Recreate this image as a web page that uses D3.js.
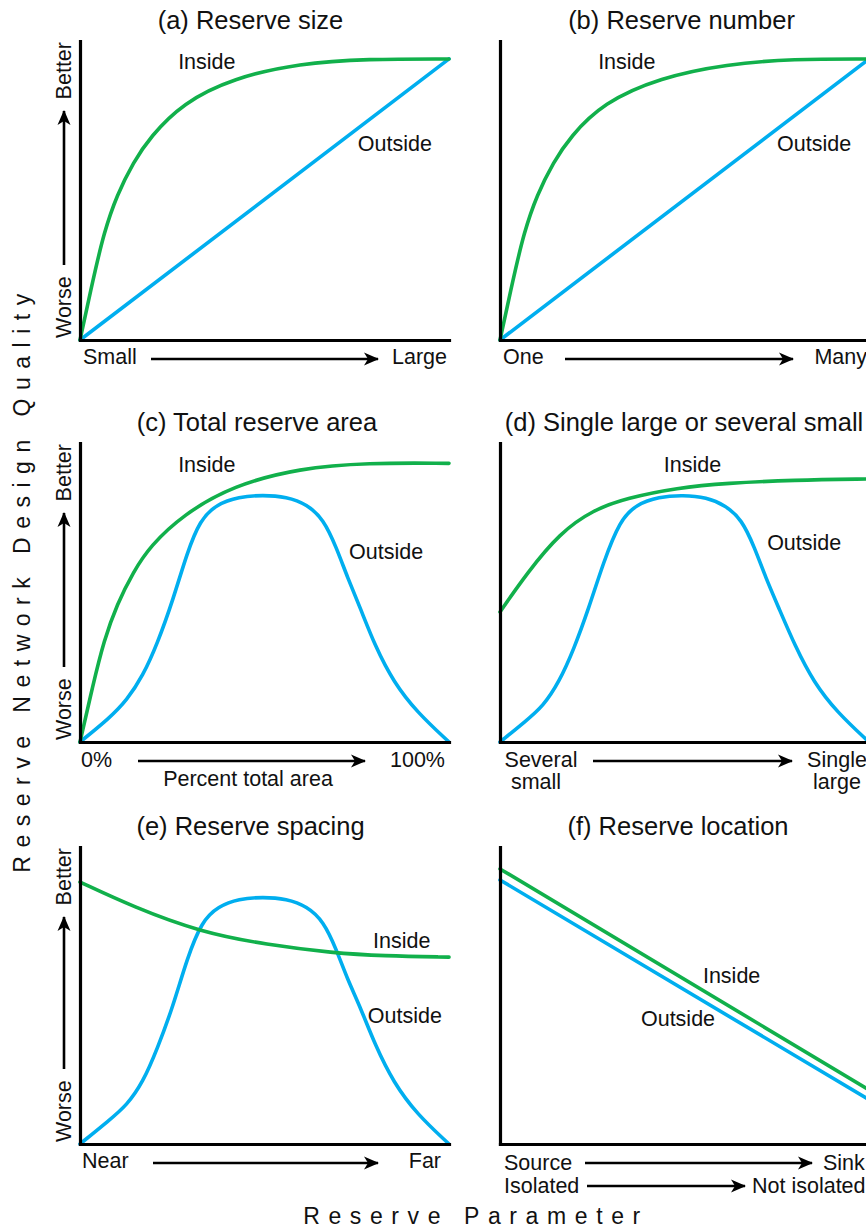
<!DOCTYPE html>
<html>
<head>
<meta charset="utf-8">
<script src="https://cdn.jsdelivr.net/npm/d3@7"></script>
<style>
  html, body { margin: 0; padding: 0; background: #fff; overflow: hidden; }
  svg { display: block; font-family: "Liberation Sans", Arial, Helvetica, sans-serif; }
</style>
</head>
<body>
<svg id="chart" width="866" height="1228"></svg>
<script>
// ---------------- DATA (x: 0..100 along parameter, y: 0..100 quality) ----------------
const titles = ["(a) Reserve size", "(b) Reserve number", "(c) Total reserve area",
                "(d) Single large or several small", "(e) Reserve spacing", "(f) Reserve location"];

// (a) Reserve size
const sizeInside  = [[0,0],[3.5,20],[6.5,36],[10,48.5],[14.5,59.5],[19,67.9],[27.9,79.3],[41.5,87.6],[59.6,92.6],[77.8,94],[100,94]];
const sizeOutside = [[0,0],[100,94]];
// (b) Reserve number
const numberInside  = [[0,0],[3.5,20],[6.5,36],[10,48.5],[14.5,59.5],[19,67.9],[27.9,79.3],[43.4,87.8],[61.5,92.3],[79.4,94],[100,94]];
const numberOutside = [[0,0],[100,94]];
// (c) Total reserve area
const areaInside  = [[0,0],[3.5,19],[6.5,34],[10,46],[14.5,57],[19,65.5],[27.9,76],[41.5,85.8],[59.6,91.6],[77.8,93.4],[100,93.2]];
const areaOutside = [[0,0],[8,8],[12.7,14],[17,22],[21,33],[25.2,47.5],[29,63.2],[32.5,74.2],[37,79.5],[43,82],[49.6,82.6],[56,82],[61.5,79.5],[66,74.5],[69.5,65],[72.5,55],[75.9,45],[80,32],[85,20],[91.3,10],[100,0]];
// (d) Single large or several small
const slossInside  = [[0,43.5],[7.3,56.5],[16.3,70],[25.2,77.6],[34.4,81.6],[48,85],[61.5,86.6],[79.4,87.6],[100,88]];
const slossOutside = [[0,0],[7,7],[11.7,12],[16,20],[20,31],[24,44.5],[28,60],[32.5,74.2],[37,79.5],[43,82],[49.6,82.6],[56,81.8],[61,79.2],[65.5,74.5],[69,65],[72,55],[75.5,45],[80,32],[85,20],[91.3,10],[100,0]];
// (e) Reserve spacing
const spacingInside  = [[0,87.6],[14.4,79.3],[32.5,70.9],[50.7,66.6],[68.6,63.9],[82.1,62.9],[100,62.5]];
const spacingOutside = [[0,0],[8,8],[12.7,13],[17,20.5],[21,32],[25.2,46],[29,62],[33,74.5],[37.5,79.5],[43,82],[49.6,82.6],[56,82],[61.5,79.5],[66,74.5],[69.5,65],[72.5,55],[75.9,46],[80,33],[85,20.5],[91.3,10],[100,0]];
// (f) Reserve location
const locationInside  = [[0,92],[100,18.1]];
const locationOutside = [[0,88.3],[100,14.8]];

// Line labels ([x, y] in data units, text anchored at start)
const insideLabelPos  = [[26.6,90.6],[26.6,90.6],[26.6,90.3],[44.4,90.3],[79.4,65.6],[55,53.8]];
const outsideLabelPos = [[75.3,63.2],[75.1,63.2],[72.9,61.2],[72.4,64.2],[78,40.5],[38.2,39.5]];

// Axis direction labels
const xEndLabels = [
  {left:["Small"], right:["Large"]},
  {left:["One"], right:["Many"]},
  {left:["0%"], right:["100%"], caption:"Percent total area"},
  {left:["Several","small"], right:["Single","large"]},
  {left:["Near"], right:["Far"]},
  {left:["Source","Isolated"], right:["Sink","Not isolated"]}
];
const yEndLabels = ["Worse", "Better"];
const yAxisTitle = "Reserve Network Design Quality";
const xAxisTitle = "Reserve Parameter";

const insideSeries  = [sizeInside, numberInside, areaInside, slossInside, spacingInside, locationInside];
const outsideSeries = [sizeOutside, numberOutside, areaOutside, slossOutside, spacingOutside, locationOutside];

// ---------------- LAYOUT ----------------
const GREEN = "#11b04b", BLUE = "#00aeef";
const colLeft = [80, 500];
const panelW = 369;
const rowTop = [41, 443, 847];
const rowBottom = [340, 742, 1144];
const titleCenter = [170.5, 181.5, 177, 184, 170.5, 178];

const svg = d3.select("#chart");

const defs = svg.append("defs");
defs.append("marker")
  .attr("id", "arrow")
  .attr("viewBox", "0 -7 16 14")
  .attr("refX", 14).attr("refY", 0)
  .attr("markerWidth", 16).attr("markerHeight", 14)
  .attr("markerUnits", "userSpaceOnUse")
  .attr("orient", "auto")
  .append("path")
  .attr("d", "M0,-6.5 L15,0 L0,6.5 L4,0 Z")
  .attr("fill", "#000");

function hArrow(x1, x2, y) {
  svg.append("line").attr("x1", x1).attr("x2", x2).attr("y1", y).attr("y2", y)
    .attr("stroke", "#000").attr("stroke-width", 2.6).attr("marker-end", "url(#arrow)");
}
function vArrow(x, y1, y2) {
  svg.append("line").attr("x1", x).attr("x2", x).attr("y1", y1).attr("y2", y2)
    .attr("stroke", "#000").attr("stroke-width", 2.6).attr("marker-end", "url(#arrow)");
}

const LABEL_FS = 21.5;

titles.forEach((title, i) => {
  const col = i % 2, row = Math.floor(i / 2);
  const L = colLeft[col], T = rowTop[row], B = rowBottom[row];
  const x = d3.scaleLinear().domain([0, 100]).range([L, L + panelW]);
  const y = d3.scaleLinear().domain([0, 100]).range([B, B - 299]);

  // title
  svg.append("text").attr("x", L + titleCenter[i]).attr("y", T - 12)
    .attr("text-anchor", "middle").attr("font-size", 25.5).attr("fill", "#111").text(title);

  const line = d3.line().x(d => x(d[0])).y(d => y(d[1])).curve(d3.curveBasis);

  // curves
  svg.append("path").datum(outsideSeries[i]).attr("d", line)
    .attr("fill", "none").attr("stroke", BLUE).attr("stroke-width", 3.6).attr("stroke-linecap", "round");
  svg.append("path").datum(insideSeries[i]).attr("d", line)
    .attr("fill", "none").attr("stroke", GREEN).attr("stroke-width", 3.6).attr("stroke-linecap", "round");

  // axes (no ticks)
  const gx = svg.append("g").attr("transform", `translate(0,${B})`)
    .call(d3.axisBottom(x).ticks(0).tickSize(0).tickSizeOuter(0));
  const gy = svg.append("g").attr("transform", `translate(${L},0)`)
    .call(d3.axisLeft(d3.scaleLinear().domain([0, 1]).range([B, T])).ticks(0).tickSize(0).tickSizeOuter(0));
  [gx, gy].forEach(g => {
    g.select(".domain").attr("stroke", "#000").attr("stroke-width", 3.2).attr("stroke-linecap", "square");
    g.selectAll("text").remove();
  });

  // Inside / Outside labels
  svg.append("text").attr("x", x(insideLabelPos[i][0])).attr("y", y(insideLabelPos[i][1]))
    .attr("font-size", LABEL_FS).attr("fill", "#111").text("Inside");
  svg.append("text").attr("x", x(outsideLabelPos[i][0])).attr("y", y(outsideLabelPos[i][1]))
    .attr("font-size", LABEL_FS).attr("fill", "#111").text("Outside");

  // x-direction labels
  const lab = xEndLabels[i];
  const addText = (tx, ty, t, anchor) => svg.append("text").attr("x", tx).attr("y", ty)
    .attr("text-anchor", anchor || "start").attr("font-size", LABEL_FS).attr("fill", "#111").text(t);

  if (i === 0 || i === 1 || i === 4) {
    const arrowSpan = i === 0 ? [71, 298] : i === 1 ? [65, 293] : [73, 298];
    addText(L + (i === 4 ? 2 : 3), B + 24, lab.left[0]);
    hArrow(L + arrowSpan[0], L + arrowSpan[1], B + 19);
    addText(L + (i === 4 ? 361 : 367), B + 24, lab.right[0], "end");
  } else if (i === 2) {
    addText(L + 1, B + 25, lab.left[0]);
    hArrow(L + 58, L + 285, B + 19);
    addText(L + 365, B + 25, lab.right[0], "end");
    addText(L + 168, B + 44, lab.caption, "middle");
  } else if (i === 3) {
    addText(L + 41, B + 25, lab.left[0], "middle");
    addText(L + 36, B + 47, lab.left[1], "middle");
    hArrow(L + 93, L + 292, B + 19);
    addText(L + 337, B + 25, lab.right[0], "middle");
    addText(L + 337, B + 47, lab.right[1], "middle");
  } else if (i === 5) {
    addText(L + 4, B + 26, lab.left[0]);
    hArrow(L + 85, L + 312, B + 19);
    addText(L + 323, B + 26, lab.right[0]);
    addText(L + 4, B + 49, lab.left[1]);
    hArrow(L + 87, L + 245, B + 42);
    addText(L + 252, B + 49, lab.right[1]);
  }

  // y-direction labels (left column only)
  if (col === 0) {
    const bx = L - 9;
    svg.append("text").attr("transform", `translate(${bx},${B - 2}) rotate(-90)`)
      .attr("font-size", LABEL_FS).attr("fill", "#111").text(yEndLabels[0]);
    svg.append("text").attr("transform", `translate(${bx},${T + 1}) rotate(-90)`)
      .attr("text-anchor", "end").attr("font-size", LABEL_FS).attr("fill", "#111").text(yEndLabels[1]);
    vArrow(L - 16, B - 75, T + 70);
  }
});

// big axis titles
svg.append("text").attr("transform", "translate(30,579) rotate(-90)")
  .attr("text-anchor", "middle").attr("font-size", 23).attr("letter-spacing", 8.5)
  .attr("fill", "#111").text(yAxisTitle);
svg.append("text").attr("x", 476).attr("y", 1224)
  .attr("text-anchor", "middle").attr("font-size", 23).attr("letter-spacing", 8.6)
  .attr("fill", "#111").text(xAxisTitle);
</script>
</body>
</html>
